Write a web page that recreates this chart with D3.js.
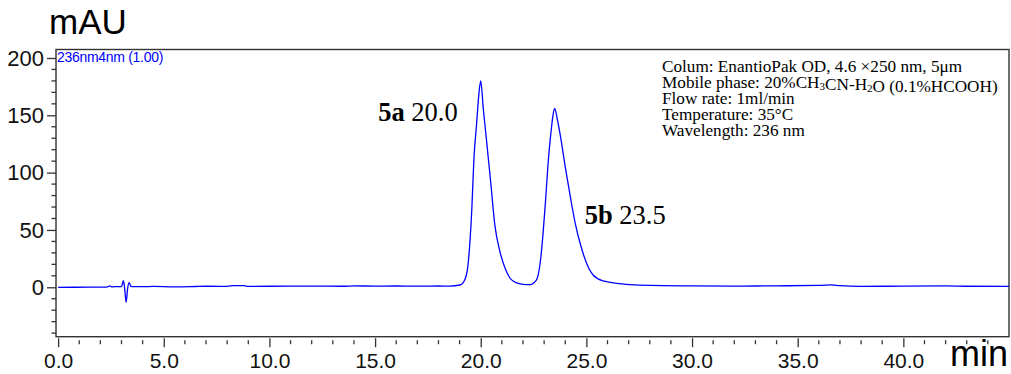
<!DOCTYPE html>
<html>
<head>
<meta charset="utf-8">
<script src="https://cdn.jsdelivr.net/npm/d3@7"></script>
<style>
  html, body { margin: 0; padding: 0; background: #fff; }
  svg { display: block; }
</style>
</head>
<body>
<svg id="chart" width="1011" height="374"></svg>
<script>
// Chromatogram trace, 236 nm: retention time (min) and absorbance (mAU)
const traceTime = [
  0, 1.5, 2.3, 2.45, 2.55, 2.65, 3.0, 3.09, 3.15, 3.22, 3.29, 3.36, 3.45, 3.6,
  4.0, 4.5, 5.5, 6.5, 7.0, 8.0, 8.3, 8.8, 9.0, 10, 12, 13.5, 14, 15, 16, 17, 18,
  18.54, 19.02, 19.16, 19.35, 19.49, 19.58, 19.68, 19.80, 19.92, 20.0, 20.12,
  20.28, 20.47, 20.67, 20.91, 21.15, 21.38, 21.70, 22.0, 22.33, 22.64, 22.83,
  22.95, 23.07, 23.2, 23.32, 23.42, 23.5, 23.63, 23.78, 24.0, 24.24, 24.47, 24.7,
  25.01, 25.32, 25.80, 26.43, 27.06, 28, 30, 32, 34, 36, 36.6, 37, 38, 40, 42, 43, 45
];
const traceMAU = [
  0, 0.1, 0.2, 1.2, 0.3, 0.5, 0.6, 5.8, -1, -13, -1, 4, 0.8, 0.6,
  0.5, 0.8, 0.4, 0.7, 0.9, 0.8, 1.5, 1.4, 0.8, 0.9, 1.0, 0.9, 1.2, 1.0, 1.1, 1.0, 1.1,
  1.0, 2.0, 3.8, 13.3, 39.8, 69, 113, 141.5, 170, 180, 156,
  127, 92, 54, 31, 16.8, 8.1, 3.8, 2.6, 2.3, 6.4, 23.8,
  47, 76, 111, 134.5, 150, 156, 146, 131, 105, 79, 56, 38.6,
  21, 10.7, 5.5, 3.5, 2.4, 1.6, 1.2, 1.0, 1.3, 1.6, 2.1, 1.4, 0.8, 1.0, 1.2, 0.9, 0.8
];

// Peak labels
const peakNames = ["5a", "5b"];
const peakTimes = [20.0, 23.5];

// Axis ticks
const xTickLabels = ["0.0", "5.0", "10.0", "15.0", "20.0", "25.0", "30.0", "35.0", "40.0"];
const yTickLabels = ["0", "50", "100", "150", "200"];

// Method conditions listed in the upper-right corner
const conditionLines = [
  ["Colum: EnantioPak OD, 4.6 \u00d7250 nm, 5\u03bcm"],
  ["Mobile phase: 20%CH", {sub: "3"}, "CN-H", {sub: "2"}, "O (0.1%HCOOH)"],
  ["Flow rate: 1ml/min"],
  ["Temperature: 35\u00b0C"],
  ["Wavelength: 236 nm"]
];

const svg = d3.select("#chart");
const plotL = 56, plotR = 1009, plotT = 49.5, plotB = 336.7;

const x = d3.scaleLinear().domain([-0.1, 45]).range([plotL, plotR]);
const y = d3.scaleLinear().domain([-43.1, 207.4]).range([plotB, plotT]);

const axisColor = "#333";
const sansFont = "Liberation Sans, Arial, sans-serif";
const serifFont = "Liberation Serif, Times New Roman, serif";

// Frame
svg.append("rect")
  .attr("x", plotL).attr("y", plotT)
  .attr("width", plotR - plotL).attr("height", plotB - plotT)
  .attr("fill", "none").attr("stroke", axisColor).attr("stroke-width", 1.4);

// Y axis: major ticks every 50, minor every 10
const yMajor = yTickLabels.map(Number);
const yAxis = d3.axisLeft(y).tickValues(yMajor).tickSize(9).tickPadding(3)
  .tickFormat((d, i) => yTickLabels[i]);
const gy = svg.append("g").attr("transform", `translate(${plotL},0)`).call(yAxis);
gy.select(".domain").remove();
gy.selectAll(".tick line").attr("stroke", axisColor).attr("stroke-width", 1.3);
gy.selectAll(".tick text").attr("font-size", 22).attr("fill", "#111")
  .attr("font-family", sansFont);

const yMinor = d3.range(-40, 201, 10).filter(v => v % 50 !== 0);
svg.append("g").selectAll("line").data(yMinor).join("line")
  .attr("x1", plotL - 4.5).attr("x2", plotL)
  .attr("y1", d => y(d)).attr("y2", d => y(d))
  .attr("stroke", axisColor).attr("stroke-width", 1.3);

// X axis: drawn just below the frame, major ticks every 5 min, minor every 1 min
const xMajor = xTickLabels.map(Number);
const xAxis = d3.axisBottom(x).tickValues(xMajor).tickSize(9).tickPadding(6)
  .tickFormat((d, i) => xTickLabels[i]);
const gx = svg.append("g").attr("transform", `translate(0,${plotB + 1.5})`).call(xAxis);
gx.select(".domain").remove();
gx.selectAll(".tick line").attr("stroke", axisColor).attr("stroke-width", 1.3);
gx.selectAll(".tick text").attr("font-size", 21).attr("fill", "#111")
  .attr("font-family", sansFont);

const xMinor = d3.range(1, 45, 1).filter(v => v % 5 !== 0);
svg.append("g").selectAll("line").data(xMinor).join("line")
  .attr("x1", d => x(d)).attr("x2", d => x(d))
  .attr("y1", plotB + 3.5).attr("y2", plotB + 7.5)
  .attr("stroke", axisColor).attr("stroke-width", 1.3);

// Axis titles
svg.append("text").attr("x", 49).attr("y", 34)
  .attr("font-family", sansFont).attr("font-size", 35).attr("fill", "#000")
  .text("mAU");
svg.append("text").attr("x", 1008).attr("y", 366).attr("text-anchor", "end")
  .attr("font-family", sansFont).attr("font-size", 36).attr("fill", "#000")
  .text("min");

// Detector channel legend
svg.append("text").attr("x", 57).attr("y", 62)
  .attr("font-family", sansFont).attr("font-size", 14).attr("fill", "#0000ff")
  .attr("letter-spacing", -0.3)
  .text("236nm4nm (1.00)");

// Trace
const pts = traceTime.map((t, i) => [t, traceMAU[i]]);
const line = d3.line().x(d => x(d[0])).y(d => y(d[1])).curve(d3.curveMonotoneX);
svg.append("path").datum(pts)
  .attr("d", line)
  .attr("fill", "none").attr("stroke", "#0000ff").attr("stroke-width", 1.3)
  .attr("stroke-linejoin", "round");

// Peak annotations
function peakLabel(i, px, py, anchor) {
  const t = svg.append("text").attr("x", px).attr("y", py)
    .attr("text-anchor", anchor)
    .attr("font-family", serifFont).attr("font-size", 26.5).attr("fill", "#000");
  t.append("tspan").attr("font-weight", "bold").text(peakNames[i]);
  t.append("tspan").text(" " + peakTimes[i].toFixed(1));
}
peakLabel(0, x(peakTimes[0]) - 23, 121, "end");
peakLabel(1, x(peakTimes[1]) + 30, 224, "start");

// Conditions block (tight line spacing, as in the instrument report)
const cond = svg.append("g").attr("font-family", serifFont).attr("font-size", 17.2).attr("fill", "#000");
conditionLines.forEach((parts, i) => {
  const t = cond.append("text").attr("x", 662).attr("y", 71.5 + i * 16.1);
  parts.forEach(p => {
    if (typeof p === "string") {
      t.append("tspan").text(p);
    } else {
      t.append("tspan").attr("font-size", 11).attr("dy", 2).text(p.sub);
      t.append("tspan").attr("dy", -2).text("");
    }
  });
});
</script>
</body>
</html>
